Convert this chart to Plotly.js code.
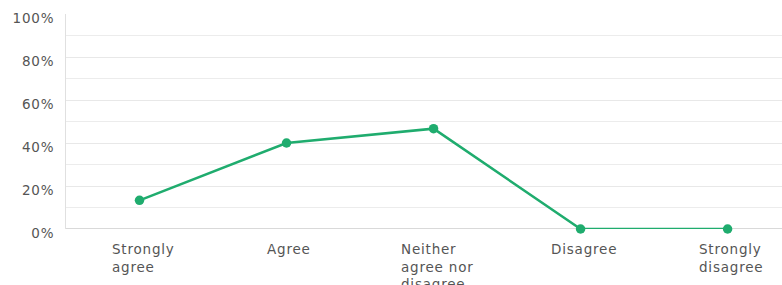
<!DOCTYPE html>
<html>
<head>
<meta charset="utf-8">
<script src="https://cdn.plot.ly/plotly-3.0.1.min.js"></script>
<style>
html, body { margin: 0; padding: 0; background: #fff; }
#chart { width: 782px; height: 285px; }
#chart svg text { letter-spacing: 0.8px; }
</style>
</head>
<body>
<div id="chart"></div>
<script>
const categories = ["Strongly agree", "Agree", "Neither agree nor disagree", "Disagree", "Strongly disagree"];
const categoryLabels = ["Strongly<br>agree", "Agree", "Neither<br>agree nor<br>disagree", "Disagree", "Strongly<br>disagree"];
const responses = [0.1333, 0.4000, 0.4667, 0.0, 0.0];
const yTickValues = [0, 0.2, 0.4, 0.6, 0.8, 1.0];
const yTickLabels = ["0%", "20%", "40%", "60%", "80%", "100%"];

const green = "#1fac6e";
const textColor = "#555555";
const fontFamily = "DejaVu Sans, sans-serif";

const trace = {
  type: "scatter",
  mode: "lines+markers",
  x: categories,
  y: responses,
  line: { color: green, width: 2.5 },
  marker: { color: green, size: 9.5 },
  cliponaxis: false,
  hoverinfo: "skip"
};

const annotations = categories.map((c, i) => ({
  x: c,
  xref: "x",
  y: 0,
  yref: "paper",
  yanchor: "top",
  xanchor: "center",
  yshift: -10,
  align: "left",
  showarrow: false,
  text: categoryLabels[i],
  font: { family: fontFamily, size: 13.5, color: textColor }
}));

const layout = {
  width: 782,
  height: 285,
  margin: { l: 66, r: 0, t: 13.5, b: 56, pad: 0 },
  paper_bgcolor: "#ffffff",
  plot_bgcolor: "#ffffff",
  showlegend: false,
  font: { family: fontFamily, size: 13.5, color: textColor },
  xaxis: {
    type: "category",
    range: [-0.5, 4.37],
    showgrid: false,
    showticklabels: false,
    zeroline: false,
    showline: false,
    ticks: "",
    fixedrange: true
  },
  yaxis: {
    range: [0, 1],
    tickvals: yTickValues,
    ticktext: yTickLabels,
    showgrid: true,
    gridcolor: "#e8e8e8",
    gridwidth: 1,
    minor: { dtick: 0.1, tick0: 0, showgrid: true, gridcolor: "#ececec", gridwidth: 1 },
    zeroline: false,
    showline: true,
    linecolor: "#e0e0e0",
    linewidth: 1,
    ticks: "",
    ticklabelstandoff: 8,
    ticklabelshift: 4,
    tickfont: { family: fontFamily, size: 13.5, color: textColor },
    fixedrange: true
  },
  shapes: [{
    type: "line",
    xref: "paper", x0: 0, x1: 1,
    yref: "y", y0: 0, y1: 0,
    line: { color: "#cccccc", width: 1.5 },
    layer: "below"
  }],
  annotations: annotations
};

Plotly.newPlot("chart", [trace], layout, { displayModeBar: false, staticPlot: true });
</script>
</body>
</html>
